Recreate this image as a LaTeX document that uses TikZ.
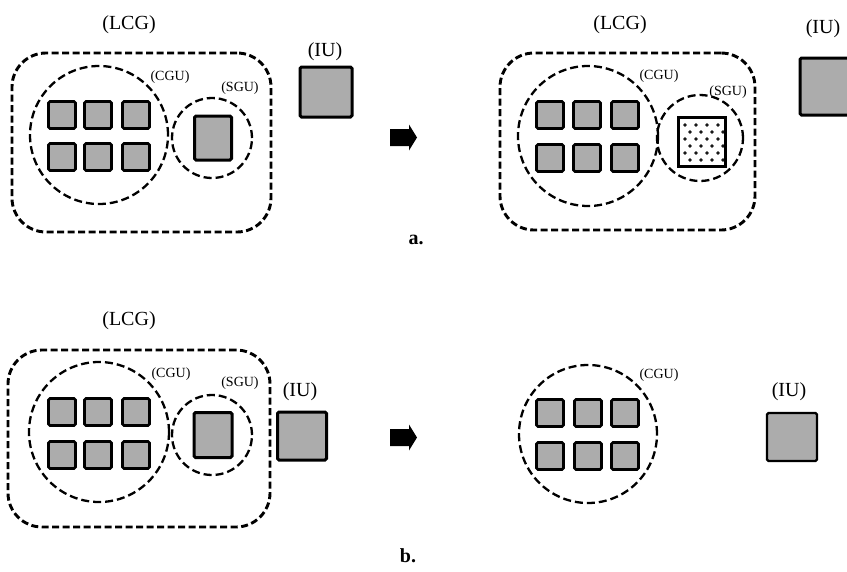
\documentclass[tikz,border=0pt]{standalone}
\usepackage{fontspec}
\setmainfont{Liberation Serif}
\usetikzlibrary{positioning}
\definecolor{unitgray}{RGB}{172,172,172}
\begin{document}
\begin{tikzpicture}[x=1pt,y=-1pt,
  lcgbox/.style={draw, line width=2.9pt, dash pattern=on 7pt off 3.5pt, rounded corners=34pt, inner sep=0pt},
  grp/.style={circle, draw, line width=2.3pt, dash pattern=on 8pt off 4pt, inner sep=0pt},
  unit/.style={draw, line width=2.8pt, fill=unitgray, rounded corners=1.5pt, inner sep=0pt, minimum width=27pt, minimum height=27pt},
  bigunit/.style={draw, line width=3pt, fill=unitgray, rounded corners=1.5pt, inner sep=0pt},
  biglbl/.style={font=\fontsize{20}{20}\selectfont, inner sep=0pt},
  smllbl/.style={font=\fontsize{14}{14}\selectfont, inner sep=0pt},
  caplbl/.style={font=\fontsize{20}{20}\selectfont\bfseries, inner sep=0pt},
  blockarrow/.style={fill=black}
]
\useasboundingbox (0,0) rectangle (847,571);
\fill[white] (0,0) rectangle (847,571);

% ===== Panel a, left =====
\node[biglbl] (aLCGl) at (129,25) {(LCG)};
\node[lcgbox, minimum width=259pt, minimum height=179pt] (aLCG) at (141.5,142.5) {};
\node[grp, minimum size=138pt] (aCGU) at (99,135) {};
\node[smllbl] (aCGUl) at (170,77) {(CGU)};
\node[grp, minimum size=80pt] (aSGU) at (212,138) {};
\node[smllbl] (aSGUl) at (240,88) {(SGU)};
\node[bigunit, minimum width=37pt, minimum height=44pt] (aSGUu) at (213,138) {};
\foreach \i/\x in {1/62,2/98,3/136}{
  \foreach \j/\y in {1/115,2/157}{
    \node[unit] (aU\i\j) at (\x,\y) {};
  }
}
\node[biglbl] (aIUl) at (325,52) {(IU)};
\node[bigunit, minimum width=52pt, minimum height=50pt] (aIU) at (326,92) {};

% arrow a
\coordinate (aArrT) at (390,129);
\fill[blockarrow] (aArrT) -- ++(19,0) -- ++(0,-4.5) -- ++(8,13) -- ++(-8,13) -- ++(0,-4.5) -- ++(-19,0) -- cycle;

% ===== Panel a, right =====
\node[biglbl] (bLCGl) at (620,25) {(LCG)};
\node[lcgbox, minimum width=255pt, minimum height=177pt] (bLCG) at (627.5,141.5) {};
\node[grp, minimum size=140pt] (bCGU) at (588,136) {};
\node[smllbl] (bCGUl) at (659,76) {(CGU)};
\node[grp, minimum size=86pt] (bSGU) at (700,138) {};
\node[smllbl] (bSGUl) at (728,92) {(SGU)};
\node[draw, line width=3pt, fill=white, inner sep=0pt, minimum width=47pt, minimum height=49pt] (bSGUu) at (702,142) {};
\foreach \r in {0,...,5}{
  \foreach \c in {0,...,3}{
    \pgfmathsetmacro{\px}{685+\c*11+mod(\r,2)*5}
    \pgfmathsetmacro{\py}{125+\r*7}
    \draw[black, line width=0.8pt] (\px,\py) circle (1.2pt);
  }
}
\foreach \i/\x in {1/550,2/587,3/625}{
  \foreach \j/\y in {1/115,2/158}{
    \node[unit] (bU\i\j) at (\x,\y) {};
  }
}
\node[biglbl] (bIUl) at (823,29) {(IU)};
\node[bigunit, minimum width=52pt, minimum height=57pt] (bIU) at (826,86.5) {};

\node[caplbl] (capa) at (416,240) {a.};

% ===== Panel b, left =====
\node[biglbl] (cLCGl) at (129,321) {(LCG)};
\node[lcgbox, minimum width=262pt, minimum height=177pt] (cLCG) at (139,438.5) {};
\node[grp, minimum size=140pt] (cCGU) at (99,432) {};
\node[smllbl] (cCGUl) at (171,374) {(CGU)};
\node[grp, minimum size=80pt] (cSGU) at (212,435) {};
\node[smllbl] (cSGUl) at (240,383) {(SGU)};
\node[bigunit, minimum width=38pt, minimum height=45pt] (cSGUu) at (213,435) {};
\foreach \i/\x in {1/62,2/98,3/136}{
  \foreach \j/\y in {1/412,2/455}{
    \node[unit] (cU\i\j) at (\x,\y) {};
  }
}
\node[biglbl] (cIUl) at (300,392) {(IU)};
\node[bigunit, minimum width=49pt, minimum height=48pt] (cIU) at (302,436) {};

% arrow b
\coordinate (bArrT) at (390,429);
\fill[blockarrow] (bArrT) -- ++(19,0) -- ++(0,-4.5) -- ++(8,13) -- ++(-8,13) -- ++(0,-4.5) -- ++(-19,0) -- cycle;

% ===== Panel b, right =====
\node[grp, minimum size=138pt] (dCGU) at (588,434) {};
\node[smllbl] (dCGUl) at (659,375) {(CGU)};
\foreach \i/\x in {1/550,2/588,3/625}{
  \foreach \j/\y in {1/413,2/456}{
    \node[unit] (dU\i\j) at (\x,\y) {};
  }
}
\node[biglbl] (dIUl) at (789,392) {(IU)};
\node[bigunit, line width=2.2pt, minimum width=50pt, minimum height=48pt] (dIU) at (792,437) {};

\node[caplbl] (capb) at (408,556) {b.};
\end{tikzpicture}
\end{document}
